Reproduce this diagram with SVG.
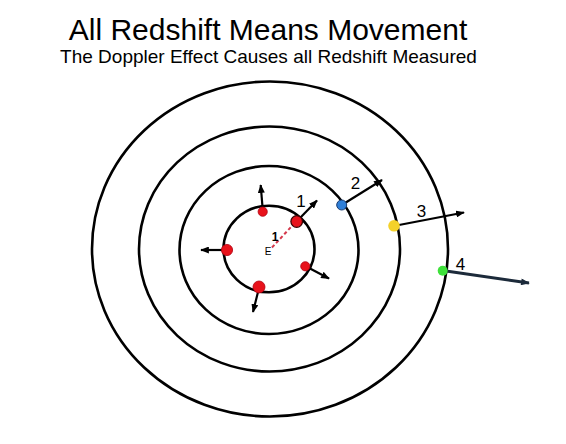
<svg xmlns="http://www.w3.org/2000/svg" width="566" height="444" viewBox="0 0 566 444">
<style>
  text { font-family: "Liberation Sans", Arial, sans-serif; fill: #000; }
  .ring { fill: none; stroke: #000; stroke-width: 2.6; }
  .arr { stroke: #000; stroke-width: 2.2; fill: none; marker-end: url(#ah); }
  .lbl { font-size: 17px; text-anchor: middle; }
  .red { fill: #e8121b; stroke: #b00010; stroke-width: 0.8; }
</style>
<defs>
  <marker id="ah" viewBox="0 0 10 8" refX="9" refY="4" markerWidth="9" markerHeight="7" markerUnits="userSpaceOnUse" orient="auto">
    <path d="M0,0 L10,4 L0,8 Z" fill="#000"/>
  </marker>
  <marker id="ah4" viewBox="0 0 10 8" refX="9" refY="4" markerWidth="11" markerHeight="7" markerUnits="userSpaceOnUse" orient="auto">
    <path d="M0,0 L10,4 L0,8 Z" fill="#1c2a3a"/>
  </marker>
</defs>
<rect width="566" height="444" fill="#fff"/>
<g id="title">
  <text x="268" y="40" font-size="30" text-anchor="middle">All Redshift Means Movement</text>
  <text x="268.5" y="63" font-size="19" text-anchor="middle">The Doppler Effect Causes all Redshift Measured</text>
</g>
<g id="rings">
  <ellipse id="ring4" class="ring" cx="270" cy="249" rx="178" ry="167.5"/>
  <ellipse id="ring3" class="ring" cx="269.5" cy="249" rx="130.5" ry="122.5"/>
  <ellipse id="ring2" class="ring" cx="269" cy="250" rx="89.5" ry="84"/>
  <ellipse id="ring1" class="ring" cx="269" cy="249" rx="45.5" ry="43.3"/>
</g>
<g id="connectors">
  <line class="arr" x1="262.5" y1="207" x2="260.7" y2="185"/>
  <line class="arr" x1="300" y1="218" x2="317" y2="200.5"/>
  <line class="arr" x1="222" y1="250" x2="201" y2="250"/>
  <line class="arr" x1="309" y1="268" x2="329" y2="278.5"/>
  <line class="arr" x1="258" y1="292" x2="253" y2="312"/>
  <line class="arr" x1="345" y1="203" x2="382" y2="180"/>
  <line class="arr" x1="399" y1="225" x2="464" y2="212.5"/>
  <line x1="446" y1="271" x2="529" y2="283" stroke="#1c2a3a" stroke-width="3" marker-end="url(#ah4)"/>
  <line x1="272" y1="247.5" x2="291" y2="227" stroke="#d5394c" stroke-width="2" stroke-dasharray="3.5,2.5"/>
</g>
<g id="earth">
  <text x="268" y="254.5" font-size="10" text-anchor="middle">E</text>
  <text x="275" y="240.5" font-size="12" font-weight="bold" text-anchor="middle">1</text>
</g>
<g id="galaxy-top"><circle class="red" cx="262.7" cy="211.7" r="4.6"/></g>
<g id="galaxy-1">
  <circle cx="296.7" cy="221.5" r="5.8" fill="#e8121b" stroke="#3a0000" stroke-width="1.3"/>
  <text class="lbl" x="301" y="207">1</text>
</g>
<g id="galaxy-left"><circle class="red" cx="227" cy="250" r="5.6"/></g>
<g id="galaxy-right"><circle class="red" cx="305.3" cy="266.3" r="4.6"/></g>
<g id="galaxy-bottom"><circle class="red" cx="259" cy="287" r="6"/></g>
<g id="galaxy-2">
  <circle cx="341.7" cy="205" r="5" fill="#2f7fd8" stroke="#1a3c70" stroke-width="1"/>
  <text class="lbl" x="355.5" y="188.5">2</text>
</g>
<g id="galaxy-3">
  <circle cx="394" cy="225.8" r="5.8" fill="#f4d12a"/>
  <text class="lbl" x="421.5" y="217">3</text>
</g>
<g id="galaxy-4">
  <circle cx="442.7" cy="270.7" r="5" fill="#3ee13a"/>
  <text class="lbl" x="460.5" y="269.5">4</text>
</g>
</svg>
